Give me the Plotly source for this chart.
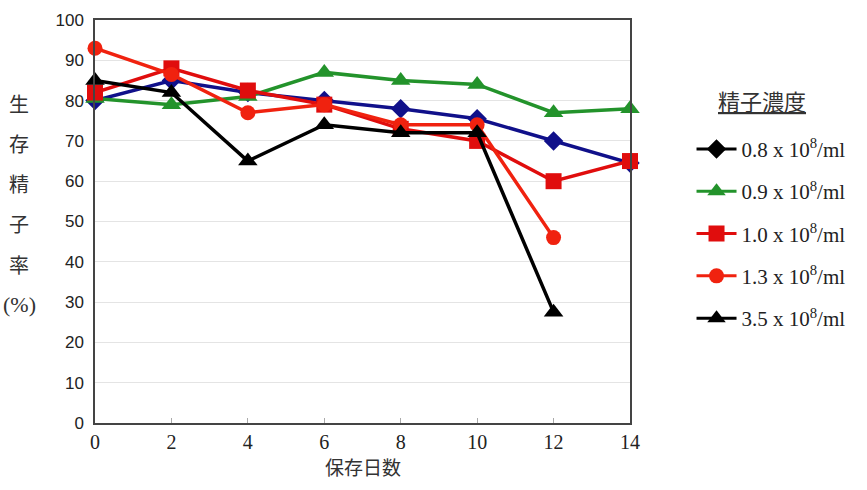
import plotly.graph_objects as go

# Storage days
days = [0, 2, 4, 6, 8, 10, 12, 14]

# Survival rate (%) of sperm by concentration
conc_08 = [80, 85, 82, 80, 78, 75.5, 70, 64.5]
conc_09 = [80.5, 79, 81, 87, 85, 84, 77, 78]
conc_10 = [82, 88, 82.5, 79, 73, 70, 60, 65]
conc_13 = [93, 86.5, 77, 79, 74, 74, 46]
conc_35 = [85, 82, 65, 74, 72, 72, 27.5]

series_labels = [
    "0.8 x 10<sup>8</sup>/ml",
    "0.9 x 10<sup>8</sup>/ml",
    "1.0 x 10<sup>8</sup>/ml",
    "1.3 x 10<sup>8</sup>/ml",
    "3.5 x 10<sup>8</sup>/ml",
]
y_ticks = [0, 10, 20, 30, 40, 50, 60, 70, 80, 90, 100]
x_ticks = [0, 2, 4, 6, 8, 10, 12, 14]

styles = [
    # (line colour, marker symbol, marker size, legend colour)
    ("#10108a", "diamond", 15, "#000000"),
    ("#23932b", "triangle-up", 17, "#23932b"),
    ("#e00d0d", "square", 16, "#e00d0d"),
    ("#f0220f", "circle", 15, "#f0220f"),
    ("#000000", "triangle-up", 17, "#000000"),
]
data = [conc_08, conc_09, conc_10, conc_13, conc_35]

fig = go.Figure()
for vals, (col, sym, size, _), name in zip(data, styles, series_labels):
    fig.add_trace(go.Scatter(
        x=days[:len(vals)], y=vals, mode="lines+markers", name=name,
        line=dict(color=col, width=3.5),
        marker=dict(symbol=sym, size=size, color=col),
        cliponaxis=False, showlegend=False,
    ))

# Legend entries
for i, ((_, sym, size, lcol), name) in enumerate(zip(styles, series_labels)):
    fig.add_trace(go.Scatter(
        x=[None], y=[None], mode="lines+markers", name=name,
        legendgroup=f"g{i}",
        line=dict(color=lcol, width=3),
        marker=dict(symbol=sym, size=size, color=lcol),
    ))

serif = "Liberation Serif, Times New Roman, serif"
sans = "Liberation Sans, Arial, sans-serif"
cjk = "Noto Sans CJK JP, sans-serif"

fig.update_layout(
    width=867, height=490,
    margin=dict(l=95, r=237, t=20, b=67),
    paper_bgcolor="white", plot_bgcolor="white",
    showlegend=True,
    legend=dict(
        x=1.115, y=0.73, xanchor="left", yanchor="top",
        font=dict(family=serif, size=21, color="#222"),
        tracegroupgap=12, traceorder="grouped",
        itemwidth=40, bgcolor="rgba(0,0,0,0)",
    ),
    xaxis=dict(
        range=[0, 14], tickvals=x_ticks, ticktext=[str(v) for v in x_ticks],
        showgrid=False, zeroline=False,
        showline=True, linecolor="#444", linewidth=1.5, mirror=True,
        ticks="inside", ticklen=5, tickcolor="#aaa",
        tickfont=dict(family=serif, size=20, color="#222"),
    ),
    yaxis=dict(
        range=[0, 100], tickvals=y_ticks,
        showgrid=True, gridcolor="#e4e4e4", gridwidth=1, zeroline=False,
        showline=True, linecolor="#444", linewidth=1.5, mirror=True,
        ticks="", tickfont=dict(family=sans, size=17, color="#222"),
        ticklabelstandoff=6,
    ),
)

# Axis titles
fig.add_annotation(
    text="保存日数", xref="paper", yref="paper", x=0.5, y=-44 / 403,
    xanchor="center", yanchor="middle", showarrow=False,
    font=dict(family=cjk, size=19, color="#333"),
)
y_title_chars = ["生", "存", "精", "子", "率", "(%)"]
for i, ch in enumerate(y_title_chars):
    fig.add_annotation(
        text=ch, xref="paper", yref="paper",
        x=-0.142, y=1 - (83 + 40.3 * i) / 403,
        xanchor="center", yanchor="middle", showarrow=False,
        font=dict(family=cjk if ch != "(%)" else serif,
                  size=20 if ch != "(%)" else 22, color="#333"),
    )

# Legend heading
fig.add_annotation(
    text="<u>精子濃度</u>", xref="paper", yref="paper",
    x=1.247, y=1 - (80 / 403), xanchor="center", yanchor="middle",
    showarrow=False, font=dict(family=cjk, size=22, color="#333"),
)

fig.write_html("out.html")
